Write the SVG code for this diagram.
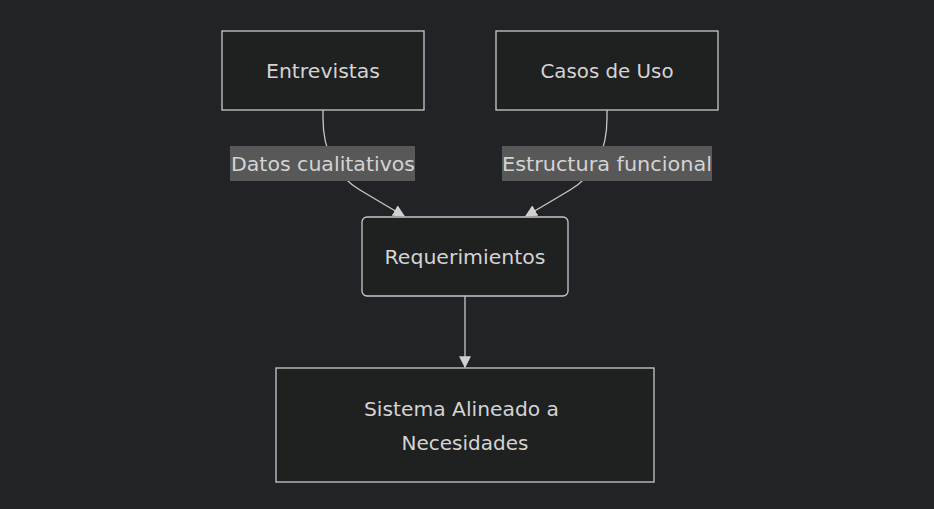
<svg xmlns="http://www.w3.org/2000/svg" width="934" height="509" viewBox="0 0 934 509">
<defs>
<style>
.bg{fill:#222326}
.node rect{fill:#1f2020;stroke:#c8c8c8;stroke-width:1.3}
.t{font-family:"DejaVu Sans","Liberation Sans",sans-serif;font-size:20px;fill:#d4d4d4}
.lbl{fill:#585858}
.edge{fill:none;stroke:#c8c8c8;stroke-width:1.3}
</style>
<marker id="ah" viewBox="0 0 10 10" refX="9" refY="5" markerWidth="12" markerHeight="12" markerUnits="userSpaceOnUse" orient="auto">
<path d="M0,0 L10,5 L0,10 z" fill="#d0d0d0"/>
</marker>
</defs>
<rect class="bg" x="0" y="0" width="934" height="509"/>
<g id="connectors">
<path class="edge" d="M323,110 L323,118 C323,150 335,175 360,190 C380,202 392,209 404,216" marker-end="url(#ah)"/>
<path class="edge" d="M607,110 L607,118 C607,150 595,175 570,190 C550,202 538,209 526,216" marker-end="url(#ah)"/>
<path class="edge" d="M465,296 L465,367" marker-end="url(#ah)"/>
<g id="label-datos">
<rect class="lbl" x="230" y="146" width="185" height="35"/>
<text class="t" x="323" y="171" text-anchor="middle" textLength="184" lengthAdjust="spacingAndGlyphs">Datos cualitativos</text>
</g>
<g id="label-estructura">
<rect class="lbl" x="502" y="146" width="210" height="35"/>
<text class="t" x="607" y="171" text-anchor="middle" textLength="210" lengthAdjust="spacingAndGlyphs">Estructura funcional</text>
</g>
</g>
<g id="entrevistas" class="node">
<rect x="222" y="31" width="202" height="79"/>
<text class="t" x="323" y="78" text-anchor="middle" textLength="114" lengthAdjust="spacingAndGlyphs">Entrevistas</text>
</g>
<g id="casos" class="node">
<rect x="496" y="31" width="222" height="79"/>
<text class="t" x="607" y="78" text-anchor="middle" textLength="133" lengthAdjust="spacingAndGlyphs">Casos de Uso</text>
</g>
<g id="requerimientos" class="node">
<rect x="362" y="217" width="206" height="79" rx="5" ry="5"/>
<text class="t" x="465" y="264" text-anchor="middle" textLength="161" lengthAdjust="spacingAndGlyphs">Requerimientos</text>
</g>
<g id="sistema" class="node">
<rect x="276" y="368" width="378" height="114"/>
<text class="t" x="461.5" y="416" text-anchor="middle" textLength="195" lengthAdjust="spacingAndGlyphs">Sistema Alineado a</text>
<text class="t" x="465" y="450" text-anchor="middle" textLength="127" lengthAdjust="spacingAndGlyphs">Necesidades</text>
</g>
</svg>
